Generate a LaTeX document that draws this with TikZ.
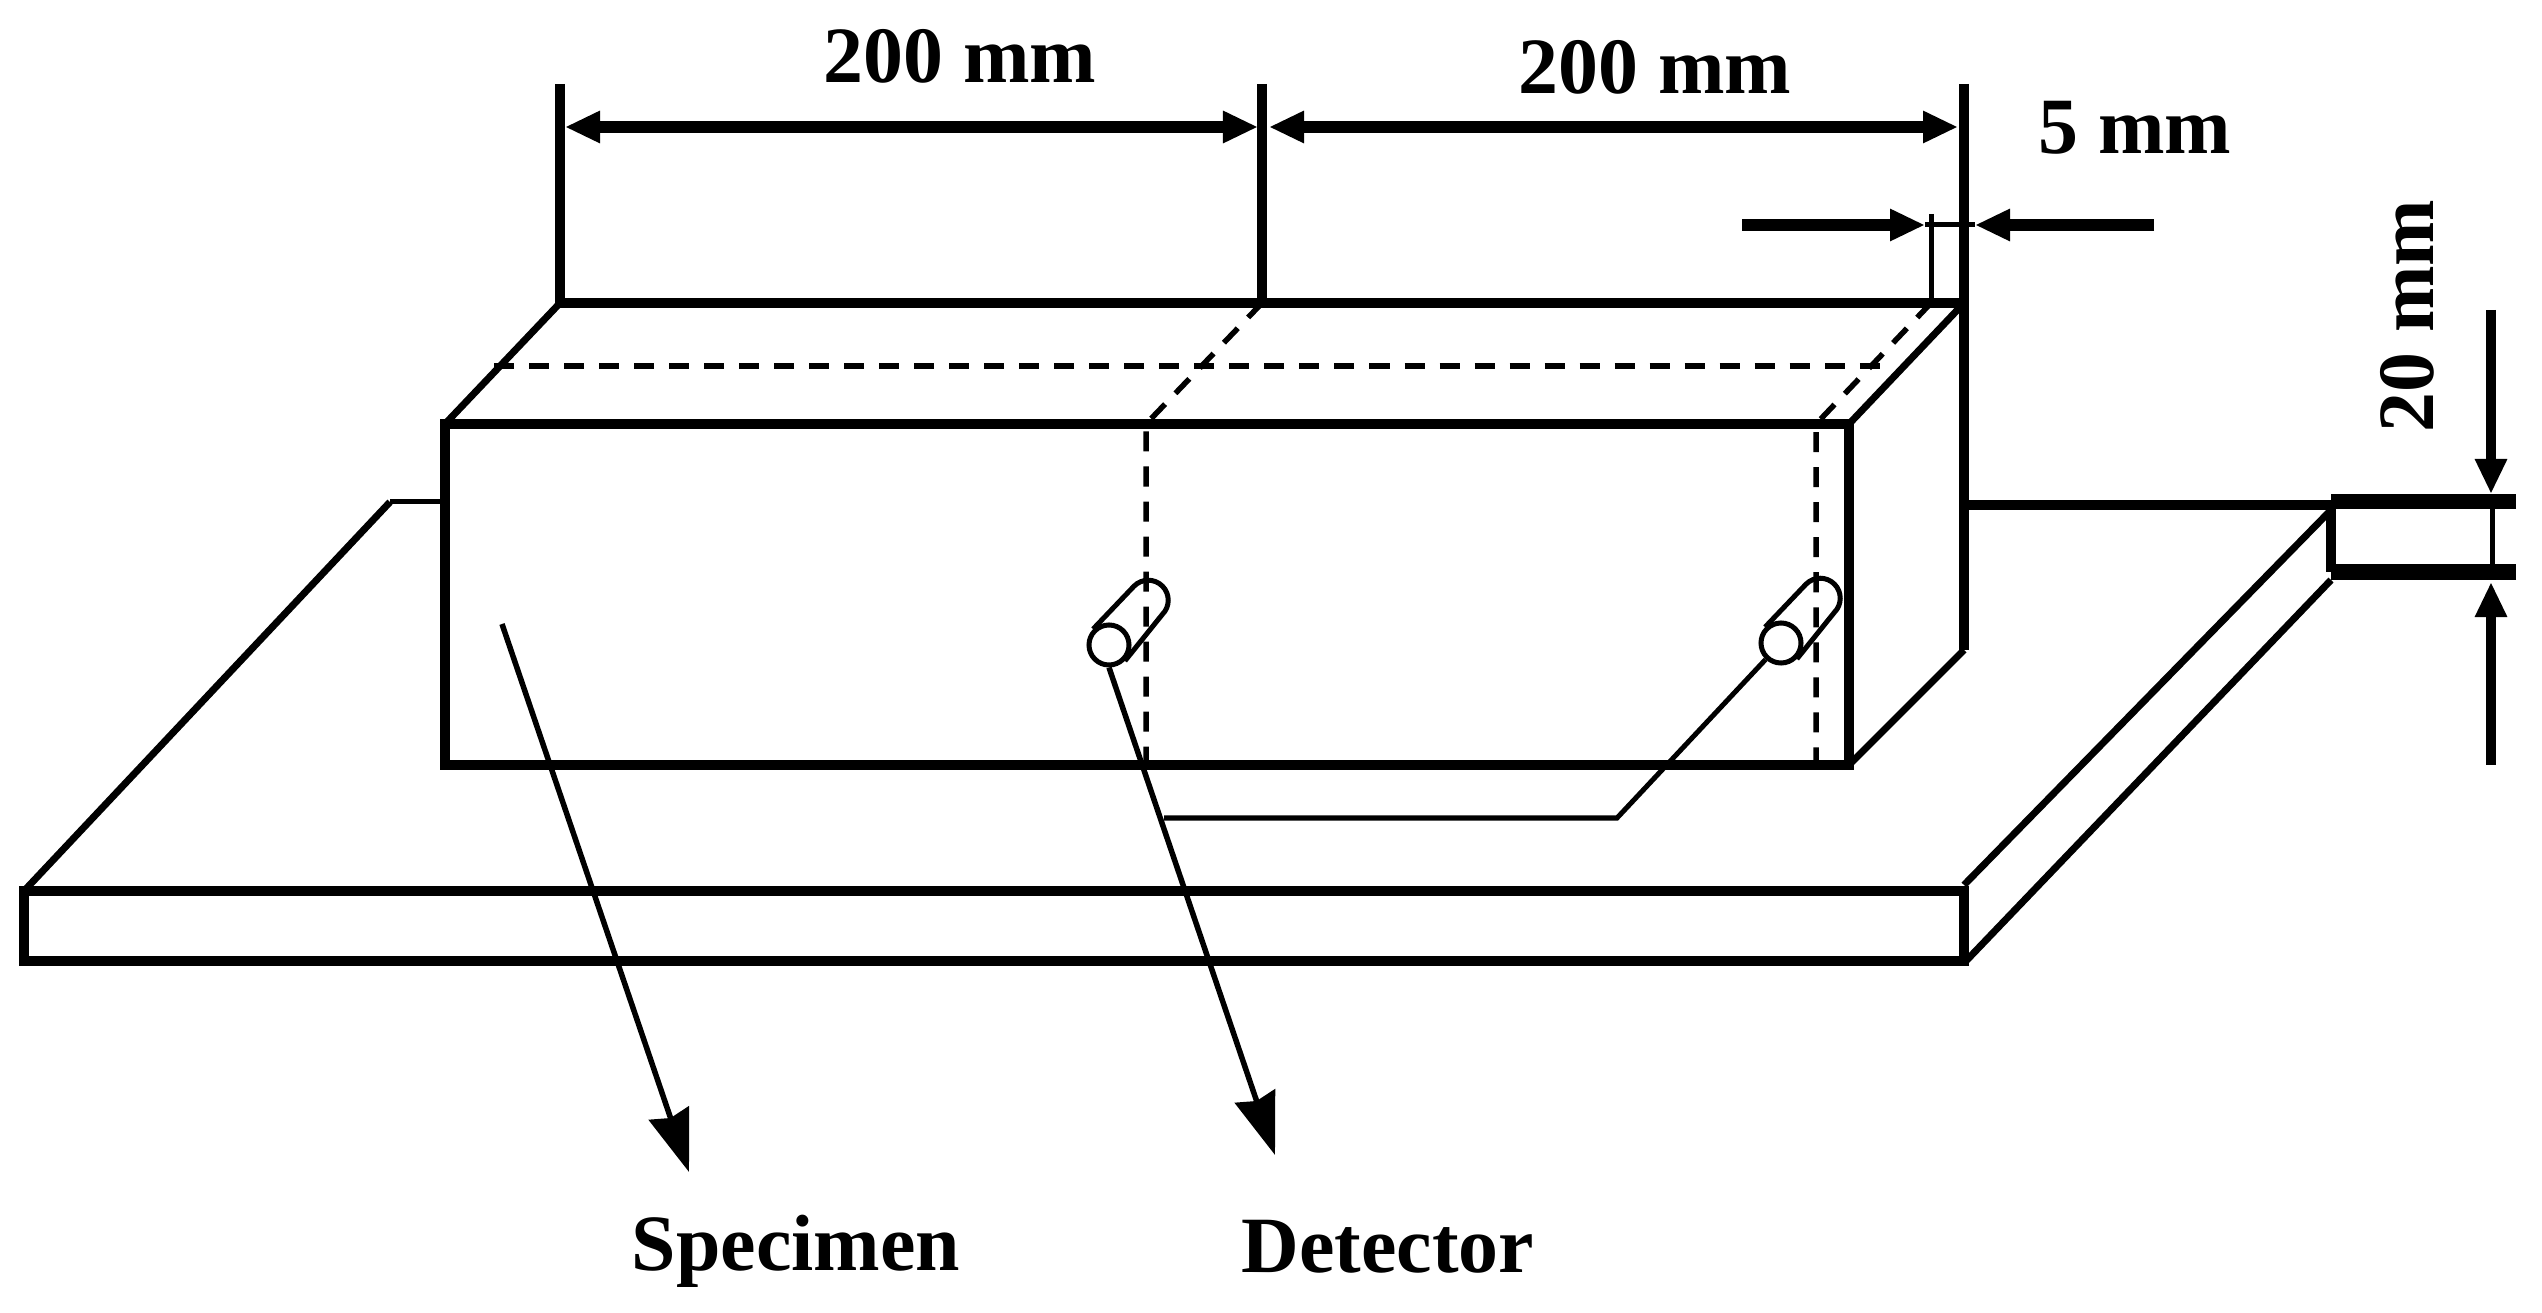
\documentclass[tikz,border=0pt]{standalone}
\usepackage{fontspec}
\setmainfont{Liberation Serif}
\usepackage{tikz}
\usetikzlibrary{arrows.meta}

\begin{document}
\begin{tikzpicture}[
    x=0.01cm, y=-0.01cm,
    >={Triangle[length=0.35cm, width=0.3cm]},
    heavyline/.style={line width=0.095cm},
    diagline/.style={line width=0.07cm},
    thinline/.style={line width=0.05cm},
    hiddenline/.style={line width=0.055cm, dash pattern=on 0.2cm off 0.15cm},
    dimarrow/.style={line width=0.115cm},
    leader/.style={line width=0.055cm, -{Stealth[length=0.62cm, width=0.42cm, inset=0.05cm]}},
    tag/.style={inner sep=0, anchor=base, font=\fontsize{22.7}{27}\selectfont\bfseries},
    sensor/.style={circle, draw, line width=0.05cm, minimum size=0.4cm, inner sep=0}
]
    \useasboundingbox (0,0) rectangle (2542,1313);

    % Labels
    \node[tag] (lenA) at (960,83) {200 mm};
    \node[tag] (lenB) at (1655,94) {200 mm};
    \node[tag] (gap) at (2135,154) {5 mm};
    \node[tag, rotate=90] (thick) at (2433,316) {20 mm};
    \node[tag] (specimen) at (796,1270) {Specimen};
    \node[tag] (detector) at (1388,1272) {Detector};

    % Corners of the block
    \coordinate (bl) at (560,303);
    \coordinate (bm) at (1262,303);
    \coordinate (br) at (1964,303);
    \coordinate (fl) at (445,424);
    \coordinate (fm) at (1146,424);
    \coordinate (fr) at (1849,424);
    \coordinate (fb) at (1849,765);
    \coordinate (rb) at (1964,650);

    % Plate
    \draw[heavyline] (24,891) rectangle (1964,961);
    \draw[diagline] (24,891) -- (390,502);
    \draw[thinline] (390,502) -- (445,502);
    \draw[heavyline] (1964,505) -- (2331,505);
    \draw[diagline] (1964,885) -- (2331,510);
    \draw[diagline] (1966,961) -- (2331,580);

    % Sheet edge on the right
    \draw[line width=0.15cm] (2516,502) -- (2331,502);
    \draw[line width=0.15cm] (2516,572) -- (2331,572);
    \draw[heavyline] (2331,502) -- (2331,572);
    \draw[thinline] (2492,502) -- (2492,572);

    % Hidden lines
    \draw[hiddenline] (494,366) -- (1888,366);
    \draw[hiddenline] (bm) -- (fm) -- (1146,765);
    \draw[hiddenline] (1931,303) -- (1816,424) -- (1816,765);

    % Block
    \draw[heavyline] (fl) rectangle (fb);
    \draw[heavyline] (bl) -- (br) -- (rb);
    \draw[diagline] (fl) -- (bl);
    \draw[diagline] (fr) -- (br);
    \draw[diagline] (fb) -- (rb);

    % Extension lines
    \draw[heavyline] (560,84) -- (bl);
    \draw[heavyline] (1262,84) -- (bm);
    \draw[heavyline] (1964,84) -- (br);
    \draw[thinline] (1931,214) -- (1931,303);
    \draw[thinline] (1925,225) -- (1975,225);

    % Dimension arrows
    \draw[dimarrow, <->] (565,127) -- (1258,127);
    \draw[dimarrow, <->] (1269,127) -- (1958,127);
    \draw[dimarrow, ->] (1742,225) -- (1925,225);
    \draw[dimarrow, ->] (2154,225) -- (1975,225);
    \draw[heavyline, ->] (2491,310) -- (2491,494);
    \draw[heavyline, ->] (2491,765) -- (2491,582);

    % Detectors
    \node[sensor] (detA) at (1109,645) {};
    \node[sensor] (detB) at (1781,643) {};
    \draw[thinline] (detA.135) -- ++(41,-43) arc[start angle=225, end angle=405, radius=20] -- (detA.-45);
    \draw[thinline] (detB.135) -- ++(41,-43) arc[start angle=225, end angle=405, radius=20] -- (detB.-45);

    % Wire and pointers
    \coordinate (joint) at (1164,818);
    \coordinate (bend) at (1617,818);
    \coordinate (tipS) at (689,1172);
    \coordinate (tipD) at (1275,1155);
    \coordinate (startS) at (502,624);
    \draw[thinline] (detB) -- (bend) -- (joint);
    \draw[leader] (startS) -- (tipS);
    \draw[leader] (detA.south) -- (tipD);
\end{tikzpicture}
\end{document}
